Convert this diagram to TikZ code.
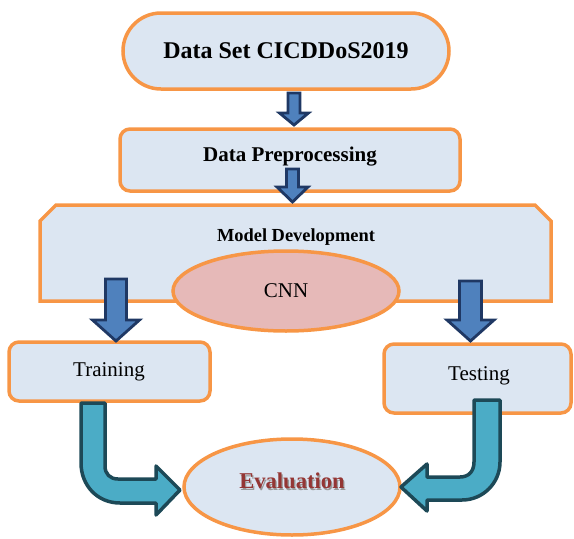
\documentclass[tikz,border=0pt]{standalone}
\usepackage{fontspec}
\setmainfont{Liberation Serif}
\usetikzlibrary{shapes.geometric,shapes.misc}
\definecolor{boxfill}{HTML}{DCE6F2}
\definecolor{boxline}{HTML}{F79646}
\definecolor{cnnfill}{HTML}{E6B9B8}
\definecolor{navy}{HTML}{1F3864}
\definecolor{arrowblue}{HTML}{4F81BD}
\definecolor{tealfill}{HTML}{4BACC6}
\definecolor{tealline}{HTML}{1D4957}
\definecolor{evalred}{HTML}{943634}

% straight block arrow pointing down: centre x, top, head base, tip, shaft half-width, head half-width
\newcommand\blockdown[6]{%
  \draw[downarrow] (#1-#5,#2) -- (#1-#5,#3) -- (#1-#6,#3) -- (#1,#4)
    -- (#1+#6,#3) -- (#1+#5,#3) -- (#1+#5,#2) -- cycle;}

\begin{document}
\begin{tikzpicture}[x=1pt,y=-1pt,
  box/.style={draw=boxline,line width=3.5pt,fill=boxfill,inner sep=0pt},
  label/.style={inner sep=0pt,text=black},
  downarrow/.style={draw=navy,line width=2.8pt,fill=arrowblue,line join=miter},
  bentarrow/.style={draw=tealline,line width=3.5pt,fill=tealfill,line join=round},
]
\useasboundingbox (0,0) rectangle (574,539);

% process boxes
\node[box,rounded rectangle,minimum width=326pt,minimum height=76pt,
      font=\bfseries\fontsize{24}{28}\selectfont] (ds) at (286,51) {Data Set CICDDoS2019};
\node[box,rectangle,rounded corners=10pt,minimum width=340pt,minimum height=62pt] (pre) at (290,160) {};
\node[label,font=\bfseries\fontsize{21}{25}\selectfont] (pretext) at (290,157) {Data Preprocessing};

\draw[box] (40,301) -- (40,221) -- (56,205) -- (535,205) -- (551,221) -- (551,301) -- cycle;
\node[label,font=\bfseries\fontsize{18.4}{22}\selectfont] (md) at (296,237) {Model Development};

\node[box,ellipse,fill=cnnfill,minimum width=226pt,minimum height=80pt,
      font=\fontsize{21}{25}\selectfont] (cnn) at (286,291) {CNN};

\node[box,rectangle,rounded corners=10pt,minimum width=201pt,minimum height=59pt] (train) at (109.5,371.5) {};
\node[label,font=\fontsize{21}{25}\selectfont] (traintext) at (109,372) {Training};

\node[box,rectangle,rounded corners=10pt,minimum width=187pt,minimum height=69pt] (test) at (477.5,378.5) {};
\node[label,font=\fontsize{21}{25}\selectfont] (testtext) at (479,376) {Testing};

\node[box,ellipse,minimum width=216pt,minimum height=96pt] (eval) at (292,487) {};
\node[label,text=black!40,font=\bfseries\fontsize{22.6}{27}\selectfont] (evalshadow) at (293.3,482.3) {Evaluation};
\node[label,text=evalred,font=\bfseries\fontsize{22.6}{27}\selectfont] (evaltext) at (292,481) {Evaluation};

% straight flow arrows
\blockdown{294}{93}{113}{125}{6}{14.5}
\blockdown{292.5}{169}{187}{202}{6}{15.5}
\blockdown{116}{279}{320}{341}{10.5}{23.5}
\blockdown{470.5}{281}{320}{341}{11}{23.5}

% bent arrows into the evaluation
\draw[bentarrow] (81,403) -- (81,463) .. controls (81,485) and (97,503) .. (120,503)
  -- (156,503) -- (156,515) -- (180,490) -- (156,466) -- (156,479) -- (118,479)
  .. controls (110,479) and (105,474) .. (105,466) -- (105,403) -- cycle;
\draw[bentarrow] (474,400) -- (474,462) .. controls (474,471) and (469,477) .. (460,477)
  -- (427,477) -- (427,464) -- (401,487) -- (427,511) -- (427,500) -- (462,500)
  .. controls (483,500) and (500,483) .. (500,462) -- (500,400) -- cycle;
\end{tikzpicture}
\end{document}
